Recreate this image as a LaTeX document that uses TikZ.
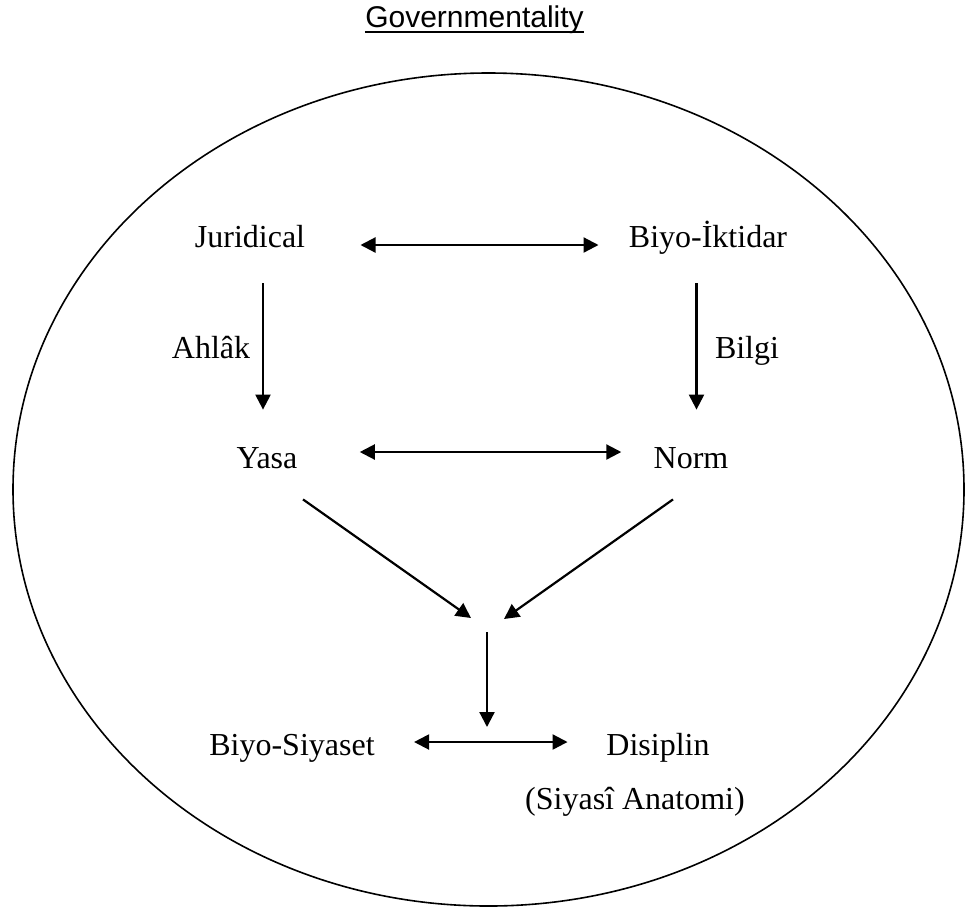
\documentclass[tikz,border=0pt]{standalone}
\usepackage{fontspec}
\setmainfont{Liberation Serif}
\newfontfamily\titlefont{Liberation Sans}
\usetikzlibrary{arrows.meta}

\begin{document}
\begin{tikzpicture}[x=0.5pt, y=-0.5pt]
\tikzstyle{term}=[inner sep=0pt, anchor=base, text height=11pt, text depth=3pt, font=\fontsize{16}{19}\selectfont]
\tikzstyle{arr}=[line width=1.1pt, -{Triangle[length=7.5pt, width=7.5pt]}]
\tikzstyle{dbl}=[line width=1.1pt, {Triangle[length=7.5pt, width=7.5pt]}-{Triangle[length=7.5pt, width=7.5pt]}]

\useasboundingbox (0,0) rectangle (967,911);
\draw[line width=0.8pt] (488.5,489.5) ellipse [x radius=237.75pt, y radius=208.25pt];

\node[inner sep=0pt, anchor=base, font=\titlefont\fontsize{15}{18}\selectfont] (title) at (474.5,27) {Governmentality};
\draw[line width=1pt] ([yshift=-2.5pt]title.base west) -- ([yshift=-2.5pt]title.base east);

\node[term] (jur) at (250,247) {Juridical};
\node[term] (biyo) at (708,247) {Biyo-İktidar};
\node[term] (ahlak) at (211,358) {Ahlâk};
\node[term] (bilgi) at (747,358) {Bilgi};
\node[term] (yasa) at (267,468) {Yasa};
\node[term] (norm) at (691,468) {Norm};
\node[term] (bsiy) at (292,755) {Biyo-Siyaset};
\node[term] (disip) at (658,755) {Disiplin};
\node[term] (anat) at (635,809) {(Siyasî Anatomi)};

\coordinate (inL) at (471,618);
\coordinate (inR) at (504,619);
\coordinate (out) at (487,632);
\coordinate (foot) at (487,727);

\draw[dbl, shorten <=27.5pt, shorten >=15pt] ([yshift=1pt]jur.base east) -- ([yshift=1pt]biyo.base west);
\draw[dbl, shorten <=31pt, shorten >=16pt] ([yshift=8pt]yasa.base east) -- ([yshift=8pt]norm.base west);
\draw[arr, shorten <=15pt, shorten >=18pt] ([xshift=6.5pt]jur.south) -- ([xshift=-2pt]yasa.north);
\draw[arr, shorten <=15pt, shorten >=18pt] ([xshift=-5.75pt]biyo.south) -- ([xshift=2.75pt]norm.north);
\draw[arr] ([xshift=18pt, yshift=-12.5pt]yasa.south) -- (inL);
\draw[arr] ([xshift=-9pt, yshift=-12.5pt]norm.south) -- (inR);
\draw[arr] (out) -- (foot);
\draw[dbl, shorten <=19.5pt, shorten >=19.25pt] ([yshift=6.5pt]bsiy.base east) -- ([yshift=6.5pt]disip.base west);
\end{tikzpicture}
\end{document}
